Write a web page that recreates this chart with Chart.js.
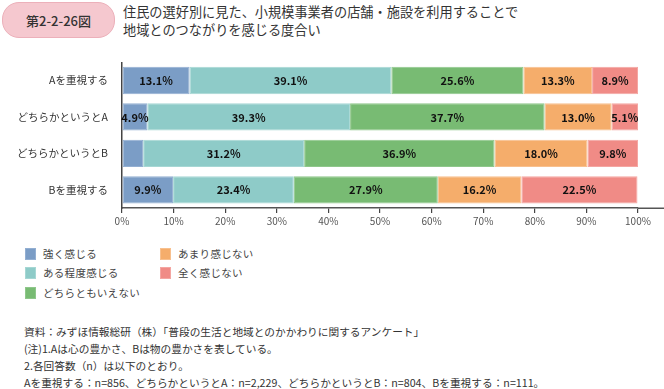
<!DOCTYPE html>
<html>
<head>
<meta charset="utf-8">
<script src="https://cdn.jsdelivr.net/npm/chart.js@4/dist/chart.umd.min.js"></script>
<style>
  html, body { margin:0; padding:0; background:#fff; }
  body { width:664px; height:389px; position:relative; overflow:hidden;
         font-family:"Noto Sans CJK JP","Noto Sans",sans-serif; color:#333; }
  #pill { position:absolute; left:2px; top:2px; width:111px; height:34px; border-radius:17px;
          background:#f5c8cf; border:1px solid #ecb0ba; box-sizing:content-box;
          display:flex; align-items:center; justify-content:center;
          font-size:13px; font-weight:500; color:#333; }
  #title { position:absolute; left:123px; top:3px; font-size:13.2px; line-height:18px; color:#333; }
  #chartWrap { position:absolute; left:0; top:50px; width:664px; height:185px; }
  #legend { position:absolute; left:0; top:0; }
  .li { position:absolute; font-size:10.5px; color:#444; letter-spacing:0.3px; white-space:nowrap; }
  .sw { position:absolute; width:11px; height:12px; }
  #notes { position:absolute; left:24px; top:323px; font-size:10.7px; line-height:17px; color:#333; white-space:nowrap; }
</style>
</head>
<body>
<div id="pill">第2-2-26図</div>
<div id="title">住民の選好別に見た、小規模事業者の店舗・施設を利用することで<br>地域とのつながりを感じる度合い</div>
<div id="chartWrap"><canvas id="c"></canvas></div>
<div id="legend"></div>
<div id="notes">
資料：みずほ情報総研（株）「普段の生活と地域とのかかわりに関するアンケート」<br>
(注)1.Aは心の豊かさ、Bは物の豊かさを表している。<br>
2.各回答数（n）は以下のとおり。<br>
Aを重視する：n=856、どちらかというとA：n=2,229、どちらかというとB：n=804、Bを重視する：n=111。
</div>
<script>
const categories = ["Aを重視する", "どちらかというとA", "どちらかというとB", "Bを重視する"];
const seriesNames = ["強く感じる", "ある程度感じる", "どちらともいえない", "あまり感じない", "全く感じない"];
const strong   = [13.1, 4.9, 4.1, 9.9];
const somewhat = [39.1, 39.3, 31.2, 23.4];
const neutral  = [25.6, 37.7, 36.9, 27.9];
const notMuch  = [13.3, 13.0, 18.0, 16.2];
const notAtAll = [8.9, 5.1, 9.8, 22.5];
const xTicks = [0, 10, 20, 30, 40, 50, 60, 70, 80, 90, 100];

const fills   = ["#7b9dc6", "#8ecbc8", "#78bb73", "#f5ad6b", "#f08b86"];
const borders = ["#93afd2", "#a6d7d4", "#8fc78b", "#f8c08e", "#f4a6a2"];
const seriesValues = [strong, somewhat, neutral, notMuch, notAtAll];

const labelPlugin = {
  id: 'barLabels',
  afterDatasetsDraw(chart) {
    const ctx = chart.ctx;
    ctx.save();
    ctx.font = 'bold 11px "Noto Sans CJK JP", "Noto Sans", sans-serif';
    ctx.fillStyle = '#111';
    ctx.textAlign = 'center';
    ctx.textBaseline = 'middle';
    chart.data.datasets.forEach((ds, di) => {
      const meta = chart.getDatasetMeta(di);
      meta.data.forEach((el, i) => {
        const v = ds.data[i];
        if (v < 4.5) return;
        const p = el.getCenterPoint();
        ctx.fillText(v.toFixed(1) + '%', p.x, p.y + 0.5);
      });
    });
    ctx.restore();
  }
};

const axisExtend = {
  id: 'axisExtend',
  afterDraw(chart) {
    const ctx = chart.ctx, a = chart.chartArea;
    ctx.save();
    ctx.strokeStyle = '#555';
    ctx.lineWidth = 1.5;
    ctx.beginPath();
    ctx.moveTo(a.right, a.bottom + 0.25);
    ctx.lineTo(chart.width, a.bottom + 0.25);
    ctx.stroke();
    ctx.restore();
  }
};

const chart = new Chart(document.getElementById('c'), {
  type: 'bar',
  data: {
    labels: categories,
    datasets: seriesNames.map((n, i) => ({
      label: n,
      data: seriesValues[i],
      backgroundColor: fills[i],
      borderColor: borders[i],
      borderWidth: 1,
      borderSkipped: false,
      barPercentage: 0.75,
      categoryPercentage: 1
    }))
  },
  options: {
    indexAxis: 'y',
    responsive: true,
    maintainAspectRatio: false,
    animation: false,
    layout: { padding: { top: 11, right: 26, left: 0, bottom: 0 } },
    plugins: { legend: { display: false }, tooltip: { enabled: false } },
    scales: {
      x: {
        stacked: true, min: 0, max: 100,
        afterBuildTicks(s) { s.ticks = xTicks.map(v => ({ value: v })); },
        afterFit(s) { s.height = 27; },
        grid: { drawOnChartArea: false, drawTicks: true, tickLength: 5, color: '#444', lineWidth: 1.2 },
        border: { display: true, color: '#555', width: 1.5 },
        ticks: { padding: 2, color: '#555', font: { size: 10, family: '"Noto Sans CJK JP", "Noto Sans", sans-serif' },
                 callback: v => v + '%' }
      },
      y: {
        stacked: true,
        afterFit(s) { s.width = 122; },
        grid: { display: false },
        border: { display: true, color: '#444', width: 1.5 },
        ticks: { padding: 6, color: '#333', font: { size: 10.5, family: '"Noto Sans CJK JP", "Noto Sans", sans-serif' } }
      }
    }
  },
  plugins: [labelPlugin, axisExtend]
});

// HTML legend built from the datasets (column-major, 3 rows)
const legend = document.getElementById('legend');
const rowsY = [254, 273, 293];
const colX = [25, 160];
chart.data.datasets.forEach((ds, i) => {
  const col = Math.floor(i / 3), row = i % 3;
  const sw = document.createElement('div');
  sw.className = 'sw';
  sw.style.left = colX[col] + 'px';
  sw.style.top = (rowsY[row] - 6) + 'px';
  sw.style.background = ds.backgroundColor;
  sw.style.border = '1px solid ' + ds.borderColor;
  sw.style.boxSizing = 'border-box';
  legend.appendChild(sw);
  const t = document.createElement('div');
  t.className = 'li';
  t.style.left = (colX[col] + 18) + 'px';
  t.style.top = (rowsY[row] - 8) + 'px';
  t.style.lineHeight = '16px';
  t.textContent = ds.label;
  legend.appendChild(t);
});
</script>
</body>
</html>
